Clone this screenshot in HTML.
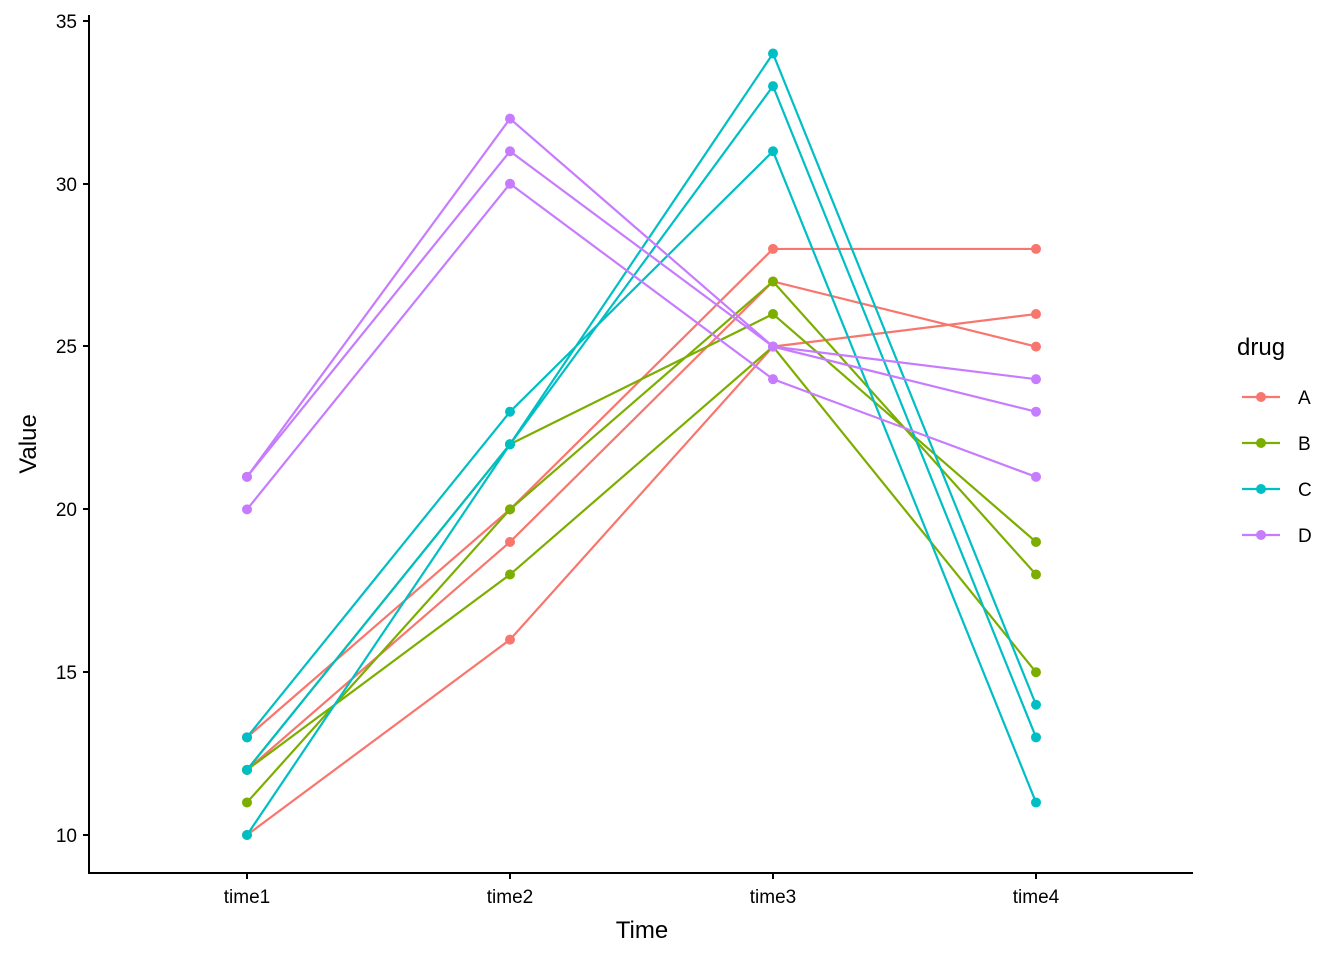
<!DOCTYPE html>
<html><head><meta charset="utf-8"><style>
html,body{margin:0;padding:0;background:#fff;}
svg text{font-family:"Liberation Sans",sans-serif;}
</style></head><body>
<svg width="1344" height="960" viewBox="0 0 1344 960" xmlns="http://www.w3.org/2000/svg">
<rect width="1344" height="960" fill="#fff"/>
<g id="plot"></g>
<line x1="89" y1="15" x2="89" y2="874" stroke="#000" stroke-width="2"/>
<line x1="88" y1="873" x2="1193" y2="873" stroke="#000" stroke-width="2"/>
<g stroke="#000" stroke-width="2">
<line x1="83" y1="21" x2="89" y2="21"/><line x1="83" y1="184" x2="89" y2="184"/>
<line x1="83" y1="346" x2="89" y2="346"/><line x1="83" y1="509" x2="89" y2="509"/>
<line x1="83" y1="672" x2="89" y2="672"/><line x1="83" y1="835" x2="89" y2="835"/>
<line x1="247" y1="873" x2="247" y2="879"/><line x1="510" y1="873" x2="510" y2="879"/>
<line x1="773" y1="873" x2="773" y2="879"/><line x1="1036" y1="873" x2="1036" y2="879"/>
</g>
<g font-size="19" fill="#000" text-anchor="end">
<text x="77" y="28">35</text><text x="77" y="191">30</text><text x="77" y="353">25</text>
<text x="77" y="516">20</text><text x="77" y="679">15</text><text x="77" y="842">10</text>
</g>
<g font-size="19" fill="#000" text-anchor="middle">
<text x="247" y="903">time1</text><text x="510" y="903">time2</text>
<text x="773" y="903">time3</text><text x="1036" y="903">time4</text>
</g>
<text x="642" y="938" font-size="24" text-anchor="middle">Time</text>
<text transform="translate(36,444) rotate(-90)" font-size="24" text-anchor="middle">Value</text>
<text x="1237" y="355" font-size="24">drug</text>
<g>
<line x1="1242" y1="397" x2="1280" y2="397" stroke="#F8766D" stroke-width="2.2"/><circle cx="1261" cy="397" r="5" fill="#F8766D"/><text x="1298" y="404" font-size="19">A</text>
<line x1="1242" y1="443" x2="1280" y2="443" stroke="#7CAE00" stroke-width="2.2"/><circle cx="1261" cy="443" r="5" fill="#7CAE00"/><text x="1298" y="450" font-size="19">B</text>
<line x1="1242" y1="489" x2="1280" y2="489" stroke="#00BFC4" stroke-width="2.2"/><circle cx="1261" cy="489" r="5" fill="#00BFC4"/><text x="1298" y="496" font-size="19">C</text>
<line x1="1242" y1="535" x2="1280" y2="535" stroke="#C77CFF" stroke-width="2.2"/><circle cx="1261" cy="535" r="5" fill="#C77CFF"/><text x="1298" y="542" font-size="19">D</text>
</g>
<script>
const X=[247,510,773,1036];
const Y=v=>835-(v-10)*32.56;
const data={
"#F8766D":[[12,19,27,25],[13,20,28,28],[10,16,25,26]],
"#7CAE00":[[12,22,26,19],[11,20,27,18],[12,18,25,15]],
"#00BFC4":[[10,22,34,14],[12,22,33,13],[13,23,31,11]],
"#C77CFF":[[21,32,25,23],[21,31,25,24],[20,30,24,21]]};
const ns="http://www.w3.org/2000/svg";
const g=document.getElementById("plot");
for(const c in data){for(const s of data[c]){
 const p=document.createElementNS(ns,"polyline");
 p.setAttribute("points",s.map((v,i)=>X[i]+","+Y(v)).join(" "));
 p.setAttribute("fill","none");p.setAttribute("stroke",c);p.setAttribute("stroke-width","2.2");
 g.appendChild(p);
 s.forEach((v,i)=>{const ci=document.createElementNS(ns,"circle");
 ci.setAttribute("cx",X[i]);ci.setAttribute("cy",Y(v));ci.setAttribute("r","5");ci.setAttribute("fill",c);g.appendChild(ci);});
}}
</script>
</svg>
</body></html>
